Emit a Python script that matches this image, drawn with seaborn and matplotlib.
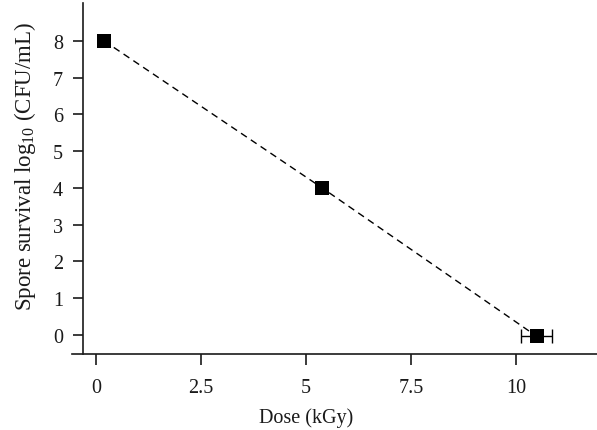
import numpy as np
import pandas as pd
import matplotlib
matplotlib.use('Agg')
import matplotlib.pyplot as plt
import seaborn as sns

dose = [0.19, 5.38, 10.49]
survival = [8.0, 4.0, -0.04]
dose_err = [0.0, 0.0, 0.37]
xticks = [0, 2.5, 5, 7.5, 10]
xtick_labels = ['0', '2.5', '5', '7.5', '10']
yticks = [0, 1, 2, 3, 4, 5, 6, 7, 8]

df = pd.DataFrame({'Dose': dose, 'Survival': survival, 'err': dose_err})

sns.set_style('ticks')
plt.rcParams['font.family'] = ['Liberation Serif', 'DejaVu Serif']
plt.rcParams['mathtext.fontset'] = 'custom'
plt.rcParams['mathtext.rm'] = 'Liberation Serif'

fig = plt.figure(figsize=(5.97, 4.31), dpi=100)
ax = fig.add_axes([83 / 597, 1 - 355 / 431, 514 / 597, 351 / 431])

sns.lineplot(data=df, x='Dose', y='Survival', color='black', linestyle=(0, (5, 3.5)),
             linewidth=1, ax=ax, zorder=2)
e = df[df['err'] > 0]
ax.errorbar(e['Dose'], e['Survival'], xerr=e['err'], fmt='none', ecolor='black',
            elinewidth=1, capsize=5, capthick=1, zorder=3)
sns.scatterplot(data=df, x='Dose', y='Survival', marker='s', s=108, color='black',
                edgecolor='black', linewidth=0, ax=ax, zorder=4)

ax.set_xlim(-0.31, 11.93)
ax.set_ylim(-0.525, 9.03)
ax.set_xticks(xticks)
ax.set_xticklabels(xtick_labels)
ax.set_yticks(yticks)
ax.tick_params(axis='both', labelsize=14.5, colors='#1a1a1a', width=1.2,
               direction='out')
ax.tick_params(axis='y', length=7.5, pad=7)
ax.tick_params(axis='x', length=8, pad=9)

for s in ['top', 'right']:
    ax.spines[s].set_visible(False)
for s in ['left', 'bottom']:
    ax.spines[s].set_linewidth(1.2)
    ax.spines[s].set_color('#1a1a1a')
ax.spines['bottom'].set_bounds(-0.57, 11.93)

ax.set_xlabel('Dose (kGy)', fontsize=14.5, color='#1a1a1a')
ax.set_ylabel(r'Spore survival log$_{\mathrm{10}}$ (CFU/mL)', fontsize=16.5, color='#1a1a1a')
ax.xaxis.set_label_coords(0.434, -0.151)
ax.yaxis.set_label_coords(-0.087, 0.536)

fig.savefig('out.png', dpi=100)
